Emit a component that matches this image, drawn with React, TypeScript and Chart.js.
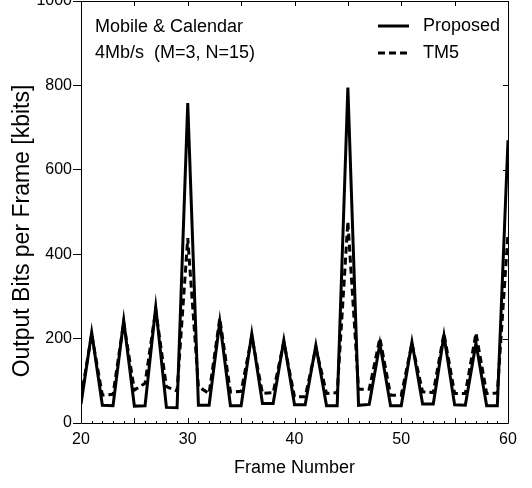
import React, { useEffect, useRef } from "react";
import { Chart, registerables } from "chart.js";

Chart.register(...registerables);

const frames = [20, 21, 22, 23, 24, 25, 26, 27, 28, 29, 30, 31, 32, 33, 34, 35, 36, 37, 38, 39, 40, 41, 42, 43, 44, 45, 46, 47, 48, 49, 50, 51, 52, 53, 54, 55, 56, 57, 58, 59, 60];
const proposed = [45, 215, 42, 41, 243, 40, 41, 275, 37, 36, 758, 42, 42, 240, 41, 41, 212, 46, 46, 196, 43, 43, 184, 41, 41, 795, 42, 44, 188, 41, 41, 192, 45, 45, 207, 43, 42, 189, 41, 41, 670];
const tm5 = [60, 210, 66, 68, 238, 78, 94, 268, 86, 76, 438, 86, 70, 248, 73, 75, 205, 70, 72, 192, 62, 62, 178, 70, 72, 477, 80, 80, 201, 66, 66, 188, 74, 72, 212, 70, 70, 213, 70, 71, 450];
const seriesNames = ["Proposed", "TM5"];
const annotationLines = ["Mobile & Calendar", "4Mb/s  (M=3, N=15)"];
const xTitle = "Frame Number";
const yTitle = "Output Bits per Frame [kbits]";
const xMin = 20;
const xMax = 60;
const xStep = 10;
const yMin = 0;
const yMax = 1000;
const yStep = 200;

const FONT = "'Liberation Sans', Arial, Helvetica, sans-serif";
const DASH = [7, 4];

const framePlugin = {
  id: "frameDecor",
  afterDatasetsDraw(chart: any) {
    const { ctx, chartArea } = chart;
    const { left, right, top, bottom } = chartArea;
    const x = chart.scales.x;
    const y = chart.scales.y;
    ctx.save();
    ctx.strokeStyle = "#000";
    ctx.lineWidth = 1;
    ctx.setLineDash([]);
    ctx.beginPath();
    ctx.moveTo(Math.round(left) + 0.5, Math.round(top) + 0.5);
    ctx.lineTo(Math.round(right) + 0.5, Math.round(top) + 0.5);
    ctx.lineTo(Math.round(right) + 0.5, Math.round(bottom) + 0.5);
    ctx.lineTo(Math.round(left) + 0.5, Math.round(bottom) + 0.5);
    ctx.closePath();
    ctx.stroke();
    ctx.beginPath();
    for (let f = xMin; f <= xMax; f++) {
      const px = Math.round(x.getPixelForValue(f)) + 0.5;
      const major = f % 5 === 0;
      ctx.moveTo(px, bottom);
      ctx.lineTo(px, bottom - (major ? 5 : 2));
      if (major) {
        ctx.moveTo(px, top);
        ctx.lineTo(px, top + 5);
      }
    }
    for (let v = yMin; v <= yMax; v += yStep) {
      const py = Math.round(y.getPixelForValue(v)) + 0.5;
      ctx.moveTo(right, py);
      ctx.lineTo(right - 5, py);
    }
    ctx.stroke();

    ctx.fillStyle = "#000";
    ctx.font = `18px ${FONT}`;
    ctx.textAlign = "left";
    ctx.textBaseline = "middle";
    ctx.fillText(annotationLines[0], 95, 27);
    ctx.fillText(annotationLines[1], 95, 53);

    const ds = chart.data.datasets;
    const lx0 = 378;
    const lx1 = 409;
    const rows = [26, 53];
    ds.forEach((d: any, i: number) => {
      ctx.beginPath();
      ctx.lineWidth = d.borderWidth;
      ctx.setLineDash(d.borderDash || []);
      ctx.moveTo(lx0, rows[i]);
      ctx.lineTo(lx1, rows[i]);
      ctx.stroke();
      ctx.setLineDash([]);
      ctx.fillText(d.label, 423, rows[i]);
    });

    ctx.save();
    ctx.translate(23, 231);
    ctx.rotate(-Math.PI / 2);
    ctx.font = `23px ${FONT}`;
    ctx.textAlign = "center";
    ctx.textBaseline = "middle";
    ctx.fillText(yTitle, 0, 0);
    ctx.restore();
    ctx.restore();
  },
};

export default function App() {
  const ref = useRef<HTMLCanvasElement | null>(null);
  useEffect(() => {
    if (!ref.current) return;
    const chart = new Chart(ref.current, {
      type: "line",
      data: {
        datasets: [
          {
            label: seriesNames[0],
            data: frames.map((f, i) => ({ x: f, y: proposed[i] })),
            borderColor: "#000",
            borderWidth: 3,
            pointRadius: 0,
            tension: 0,
            fill: false,
          },
          {
            label: seriesNames[1],
            data: frames.map((f, i) => ({ x: f, y: tm5[i] })),
            borderColor: "#000",
            borderWidth: 3,
            borderDash: DASH,
            pointRadius: 0,
            tension: 0,
            fill: false,
          },
        ],
      },
      options: {
        animation: false,
        responsive: false,
        devicePixelRatio: 1,
        layout: { padding: { top: 1, right: 24, left: 0, bottom: 0 } },
        plugins: { legend: { display: false }, tooltip: { enabled: false } },
        scales: {
          x: {
            type: "linear",
            min: xMin,
            max: xMax,
            afterFit: (s: any) => {
              s.height = 65;
              s.paddingLeft = 0;
              s.paddingRight = 0;
            },
            ticks: {
              stepSize: xStep,
              color: "#000",
              font: { family: FONT, size: 16 },
              padding: 7,
              maxRotation: 0,
              callback: (v: any) => String(v),
            },
            grid: { display: false, drawTicks: false },
            border: { display: false },
            title: {
              display: true,
              text: xTitle,
              color: "#000",
              font: { family: FONT, size: 18 },
              padding: { top: 0, bottom: 9 },
            },
          },
          y: {
            type: "linear",
            min: yMin,
            max: yMax,
            afterFit: (s: any) => {
              s.width = 81;
              s.paddingTop = 0;
              s.paddingBottom = 0;
            },
            ticks: {
              stepSize: yStep,
              color: "#000",
              font: { family: FONT, size: 16 },
              padding: 1,
              callback: (v: any) => String(v),
            },
            grid: {
              display: true,
              drawOnChartArea: false,
              drawTicks: true,
              tickLength: 8,
              color: "#000",
              lineWidth: 1,
            },
            border: { display: false },
            title: { display: false },
          },
        },
      },
      plugins: [framePlugin],
    });
    return () => chart.destroy();
  }, []);
  return (
    <div style={{ position: "absolute", left: 0, top: 0, width: 532, height: 488, background: "#fff" }}>
      <canvas ref={ref} width={532} height={488} />
    </div>
  );
}
